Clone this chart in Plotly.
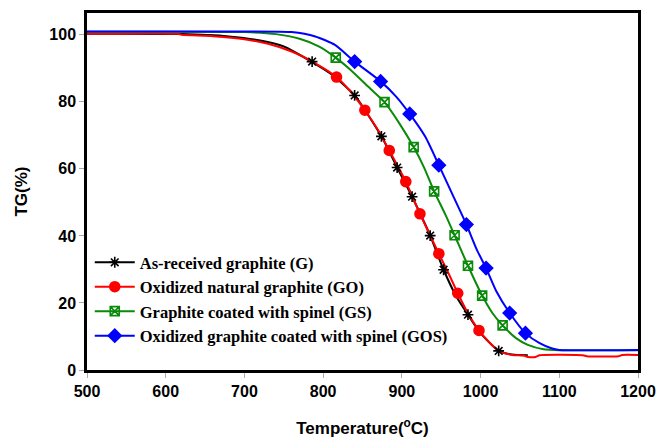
import plotly.graph_objects as go

# ---- data ----
# As-received graphite (G)
g_T = [500, 620, 680, 720, 750, 785, 810, 840, 874, 894, 913, 936, 953, 969, 984, 1000, 1023, 1040, 1060]
g_V = [100.3, 100.2, 99.5, 98.3, 96.5, 92.0, 88.3, 81.9, 69.7, 60.4, 51.7, 40.1, 29.9, 22.0, 16.5, 11.0, 5.7, 4.6, 4.4]
g_mT = [786, 840, 874, 894, 913, 936, 953, 984, 1023]
g_mV = [92.0, 81.9, 69.7, 60.4, 51.7, 40.1, 29.9, 16.5, 5.7]

# Oxidized natural graphite (GO)
go_T = [500, 615, 620, 660, 700, 730, 760, 790, 817, 835, 853, 870, 884, 905, 923, 947, 960, 971, 985,
        998, 1010, 1023, 1040, 1055, 1060, 1070, 1075, 1130, 1135, 1175, 1180, 1200]
go_V = [100.3, 100.3, 100.0, 99.6, 98.7, 97.3, 95.0, 91.5, 87.4, 83.0, 77.5, 71.5, 65.5, 56.2, 46.6, 34.7,
        28.5, 22.9, 16.5, 11.8, 8.5, 5.8, 4.5, 4.3, 3.9, 3.9, 4.4, 4.4, 4.1, 4.1, 4.5, 4.5]
go_mT = [817, 853, 884, 905, 923, 947, 971, 998]
go_mV = [87.4, 77.5, 65.5, 56.2, 46.6, 34.7, 22.9, 11.8]

# Graphite coated with spinel (GS)
gs_T = [500, 700, 740, 770, 795, 816, 835, 855, 878, 897, 915, 928, 941, 955, 967, 984, 1002, 1015,
        1028, 1045, 1060, 1080, 1100, 1200]
gs_V = [100.9, 100.8, 100.2, 98.8, 96.5, 93.2, 89.5, 85.0, 79.9, 73.5, 66.5, 60.5, 53.3, 46.5, 40.2,
        31.1, 22.2, 17.0, 13.3, 9.5, 7.5, 6.2, 5.9, 5.9]
gs_mT = [816, 878, 915, 941, 967, 984, 1002, 1028]
gs_mV = [93.2, 79.9, 66.5, 53.3, 40.2, 31.1, 22.2, 13.3]

# Oxidized graphite coated with spinel (GOS)
gos_T = [500, 700, 760, 790, 815, 840, 873, 893, 910, 930, 947, 965, 982, 995, 1007, 1020, 1037, 1057,
         1075, 1090, 1100, 1200]
gos_V = [101.0, 101.0, 100.8, 99.5, 97.0, 92.0, 86.1, 81.5, 76.4, 69.5, 61.1, 52.0, 43.4, 36.0, 30.4,
         23.5, 17.0, 11.0, 8.0, 6.5, 6.0, 6.0]
gos_mT = [840, 873, 910, 947, 982, 1007, 1037, 1057]
gos_mV = [92.0, 86.1, 76.4, 61.1, 43.4, 30.4, 17.0, 11.0]

names = ["As-received graphite (G)", "Oxidized natural graphite (GO)",
         "Graphite coated with spinel (GS)", "Oxidized graphite coated with spinel (GOS)"]
colors = ["#000000", "#ff0000", "#0a8a0a", "#0000ff"]
symbols = ["asterisk-open", "circle", "square-x-open", "diamond"]
msizes = [9, 10, 9, 10]

series = [(g_T, g_V, g_mT, g_mV), (go_T, go_V, go_mT, go_mV),
          (gs_T, gs_V, gs_mT, gs_mV), (gos_T, gos_V, gos_mT, gos_mV)]

fig = go.Figure()
for i in range(4):
    T, V, mT, mV = series[i]
    c = colors[i]
    fig.add_trace(go.Scatter(x=T, y=V, mode="lines", line=dict(color=c, width=2, shape="spline", smoothing=0.6),
                             showlegend=False, hoverinfo="skip"))
for i in range(4):
    T, V, mT, mV = series[i]
    c = colors[i]
    fig.add_trace(go.Scatter(x=mT, y=mV, mode="markers", showlegend=False,
                             marker=dict(symbol=symbols[i], size=msizes[i], color=c,
                                         line=dict(color=c, width=1.6))))
# legend entries
for i in range(4):
    c = colors[i]
    fig.add_trace(go.Scatter(x=[None], y=[None], mode="lines+markers", name=names[i],
                             line=dict(color=c, width=2),
                             marker=dict(symbol=symbols[i], size=msizes[i], color=c,
                                         line=dict(color=c, width=1.6))))

axis_common = dict(showline=True, linecolor="black", linewidth=2.5, mirror=True,
                   ticks="outside", ticklen=5, tickcolor="#aaaaaa", tickwidth=1,
                   showgrid=False, zeroline=False,
                   tickfont=dict(family="Liberation Sans", size=16, color="black", weight="bold"))

fig.update_layout(
    width=666, height=446,
    margin=dict(l=87, r=26, t=10, b=76),
    plot_bgcolor="white", paper_bgcolor="white",
    xaxis=dict(range=[500, 1200], tickvals=[500, 600, 700, 800, 900, 1000, 1100, 1200],
               title=dict(text="Temperature(<sup>o</sup>C)", standoff=24,
                          font=dict(family="Liberation Sans", size=17, color="black", weight="bold")),
               **axis_common),
    yaxis=dict(range=[0, 106.5], tickvals=[0, 20, 40, 60, 80, 100],
               title=dict(text="TG(%)", standoff=18,
                          font=dict(family="Liberation Sans", size=17, color="black", weight="bold")),
               **axis_common),
    legend=dict(x=0.005, y=0.35, xanchor="left", yanchor="top", bgcolor="rgba(0,0,0,0)",
                font=dict(family="Liberation Serif", size=16.5, color="black", weight="bold"),
                itemwidth=40, tracegroupgap=0),
)

fig.write_html("out.html")
